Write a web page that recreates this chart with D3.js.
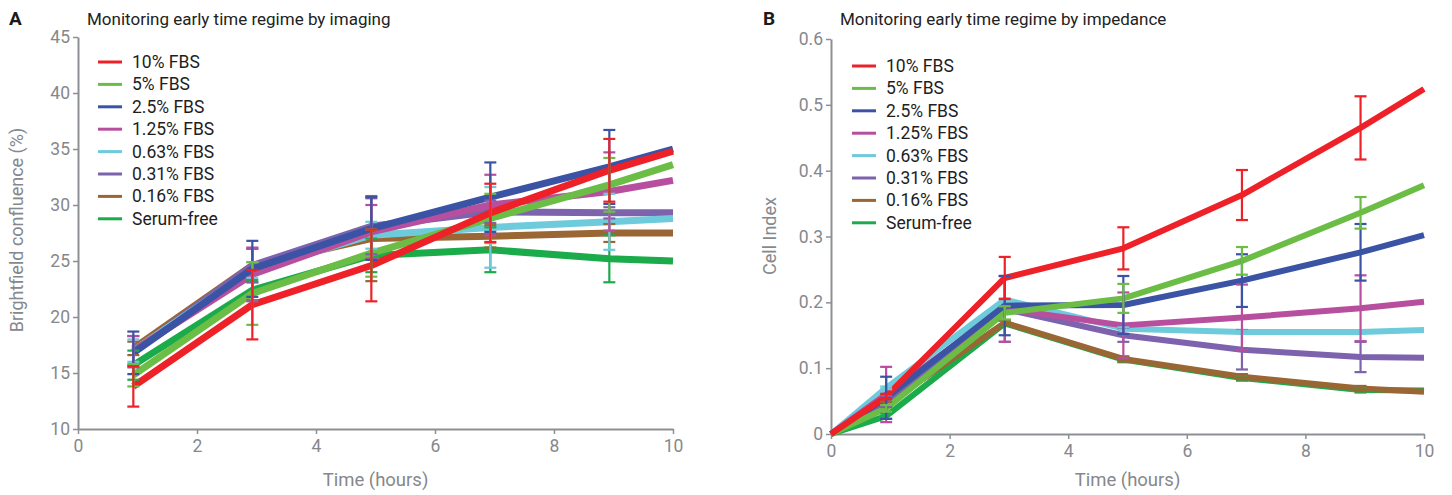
<!DOCTYPE html>
<html>
<head>
<meta charset="utf-8">
<script src="https://cdn.jsdelivr.net/npm/d3@7"></script>
<style>
  body { margin: 0; background: #fff; }
  svg { display: block; font-family: Roboto, "Noto Sans", sans-serif; }
</style>
</head>
<body>
<div class="canvas"></div>
<script>
// series names + colours (same for both panels)
const seriesNames = ['10% FBS', '5% FBS', '2.5% FBS', '1.25% FBS', '0.63% FBS', '0.31% FBS', '0.16% FBS', 'Serum-free'];
const seriesColors = ['#ee2128', '#6bbd45', '#3a53a4', '#b84f9e', '#6ecbdb', '#7d63ad', '#9a6634', '#1bab4b'];

// panel A: imaging, confluence (%)
const timesA = [0.93, 2.93, 4.93, 6.93, 8.93, 10];
const confluence = [
    [13.8, 21.1, 24.6, 29.3, 33.1, 34.8],
    [14.8, 22.1, 25.7, 28.8, 31.8, 33.6],
    [16.8, 24.3, 27.9, 30.7, 33.4, 35.0],
    [17.0, 23.8, 27.6, 30.0, 31.2, 32.2],
    [17.0, 24.2, 27.3, 28.0, 28.5, 28.8],
    [16.9, 24.6, 28.1, 29.4, 29.3, 29.3],
    [17.2, 24.6, 27.0, 27.2, 27.5, 27.5],
    [15.7, 22.4, 25.5, 26.0, 25.2, 25.0]
];
// +/- error at each measured time (not at the 10h end)
const confluenceErr = [
    [1.8, 3.1, 3.2, 2.6, 2.8],
    [1.0, 2.8, 2.1, 2.2, 2.4],
    [1.9, 2.5, 2.8, 3.1, 3.3],
    [1.3, 2.4, 2.4, 2.7, 3.5],
    [1.0, 0.7, 1.2, 3.6, 2.5],
    [1.4, 1.5, 2.5, 1.0, 0.5],
    [0.6, 1.5, 3.8, 1.0, 0.8],
    [1.3, 0.9, 1.5, 2.0, 2.1]
];
const ticksA_y = [10, 15, 20, 25, 30, 35, 40, 45];

// panel B: impedance, cell index
const timesB = [0, 0.93, 2.93, 4.93, 6.93, 8.93, 10];
const cellIndex = [
    [0, 0.057, 0.237, 0.282, 0.363, 0.465, 0.524],
    [0, 0.039, 0.184, 0.206, 0.263, 0.336, 0.378],
    [0, 0.055, 0.195, 0.196, 0.233, 0.276, 0.302],
    [0, 0.060, 0.190, 0.165, 0.177, 0.191, 0.201],
    [0, 0.070, 0.204, 0.160, 0.155, 0.155, 0.158],
    [0, 0.050, 0.190, 0.150, 0.128, 0.117, 0.116],
    [0, 0.045, 0.169, 0.114, 0.087, 0.069, 0.064],
    [0, 0.027, 0.168, 0.113, 0.085, 0.067, 0.066]
];
const cellIndexErr = [
    [0.004, 0.032, 0.032, 0.038, 0.048],
    [0.005, 0.010, 0.022, 0.021, 0.024],
    [0.032, 0.045, 0.044, 0.040, 0.043],
    [0.042, 0.050, 0.050, 0.050, 0.050],
    [0.002, 0.002, 0.002, 0.002, 0.002],
    [0.008, 0.050, 0.010, 0.030, 0.023],
    [0.004, 0.004, 0.004, 0.004, 0.004],
    [0.004, 0.004, 0.004, 0.004, 0.004]
];
const ticksB_y = [0, 0.1, 0.2, 0.3, 0.4, 0.5, 0.6];
const ticksX = [0, 2, 4, 6, 8, 10];

const svg = d3.select('.canvas')
    .append('svg')
    .attr('width', 1452)
    .attr('height', 495);

const axisGrey = '#8c8f94';

const drawPanel = (opt) => {
    const g = svg.append('g');
    const x = d3.scaleLinear().domain([0, 10]).range([opt.left, opt.right]);
    const y = d3.scaleLinear().domain(opt.yDomain).range([opt.bottom, opt.top]);

    // panel letter + title
    g.append('text').attr('x', opt.letterX).attr('y', 25)
        .attr('font-size', 19).attr('font-weight', 'bold').attr('fill', '#1a1a1a')
        .text(opt.letter);
    g.append('text').attr('x', opt.titleX).attr('y', 25)
        .attr('font-size', 17).attr('fill', '#222')
        .text(opt.title);

    // axes
    const xAxis = d3.axisBottom(x).tickValues(ticksX).tickSize(5).tickPadding(6).tickSizeOuter(0);
    const yAxis = d3.axisLeft(y).tickValues(opt.yTicks).tickSize(5).tickPadding(3).tickSizeOuter(0)
        .tickFormat(opt.yFormat);

    const xg = g.append('g').attr('transform', `translate(0, ${opt.bottom})`).call(xAxis);
    const yg = g.append('g').attr('transform', `translate(${opt.left}, 0)`).call(yAxis);
    [xg, yg].forEach(ax => {
        ax.select('.domain').attr('stroke', axisGrey).attr('stroke-width', 2);
        ax.selectAll('.tick line').attr('stroke', axisGrey).attr('stroke-width', 1.5);
        ax.selectAll('text').attr('fill', '#85888d').attr('font-size', 17.5)
            .attr('font-family', 'Roboto, sans-serif');
    });

    // axis titles
    g.append('text').attr('x', (opt.left + opt.right) / 2).attr('y', 486)
        .attr('text-anchor', 'middle').attr('font-size', 18.5).attr('fill', '#85888d')
        .text('Time (hours)');
    g.append('text')
        .attr('transform', `translate(${opt.yLabelX}, ${opt.yLabelY}) rotate(-90)`)
        .attr('text-anchor', 'middle').attr('font-size', 18).attr('fill', '#85888d')
        .text(opt.yLabel);

    const line = d3.line()
        .x(d => x(d[0]))
        .y(d => y(d[1]));

    // draw in reverse so 10% FBS ends up on top
    const order = d3.range(seriesNames.length).reverse();
    order.forEach(i => {
        const pts = opt.times.map((t, j) => [t, opt.values[i][j]]);
        g.append('path')
            .datum(pts)
            .attr('fill', 'none')
            .attr('stroke', seriesColors[i])
            .attr('stroke-width', opt.lineWidth)
            .attr('stroke-linejoin', 'round')
            .attr('d', line);
    });

    // error bars at the measured times
    order.forEach(i => {
        const bars = opt.errTimes.map((t, j) => ({
            t: t,
            v: opt.values[i][opt.times.indexOf(t)],
            e: opt.errors[i][j]
        }));
        const eb = g.append('g').attr('stroke', seriesColors[i]).attr('stroke-width', 2.2);
        bars.forEach(b => {
            const cx = x(b.t);
            const y1 = y(b.v + b.e), y2 = y(b.v - b.e);
            eb.append('line').attr('x1', cx).attr('x2', cx).attr('y1', y1).attr('y2', y2);
            eb.append('line').attr('x1', cx - 6).attr('x2', cx + 6).attr('y1', y1).attr('y2', y1);
            eb.append('line').attr('x1', cx - 6).attr('x2', cx + 6).attr('y1', y2).attr('y2', y2);
        });
    });

    // legend
    const lg = g.append('g').attr('transform', `translate(${opt.legendX}, ${opt.legendY})`);
    seriesNames.forEach((name, i) => {
        const row = lg.append('g').attr('transform', `translate(0, ${i * 22.4})`);
        row.append('line').attr('x1', 0).attr('x2', 24).attr('y1', 0).attr('y2', 0)
            .attr('stroke', seriesColors[i]).attr('stroke-width', 3);
        row.append('text').attr('x', 34).attr('y', 6)
            .attr('font-size', 17.5).attr('fill', '#1e1e1e')
            .text(name);
    });
};

drawPanel({
    letter: 'A', letterX: 9, titleX: 87,
    title: 'Monitoring early time regime by imaging',
    left: 78, right: 673, top: 37, bottom: 429,
    yDomain: [10, 45], yTicks: ticksA_y, yFormat: d3.format('d'),
    yLabel: 'Brightfield confluence (%)', yLabelX: 23, yLabelY: 230,
    times: timesA, values: confluence,
    errTimes: timesA.slice(0, 5), errors: confluenceErr,
    lineWidth: 7,
    legendX: 98, legendY: 62
});

drawPanel({
    letter: 'B', letterX: 763, titleX: 840,
    title: 'Monitoring early time regime by impedance',
    left: 831, right: 1424, top: 39, bottom: 434,
    yDomain: [0, 0.6], yTicks: ticksB_y, yFormat: d => d === 0 ? '0' : d3.format('.1f')(d),
    yLabel: 'Cell Index', yLabelX: 776, yLabelY: 236,
    times: timesB, values: cellIndex,
    errTimes: timesB.slice(1, 6), errors: cellIndexErr,
    lineWidth: 6,
    legendX: 852, legendY: 66
});
</script>
</body>
</html>
